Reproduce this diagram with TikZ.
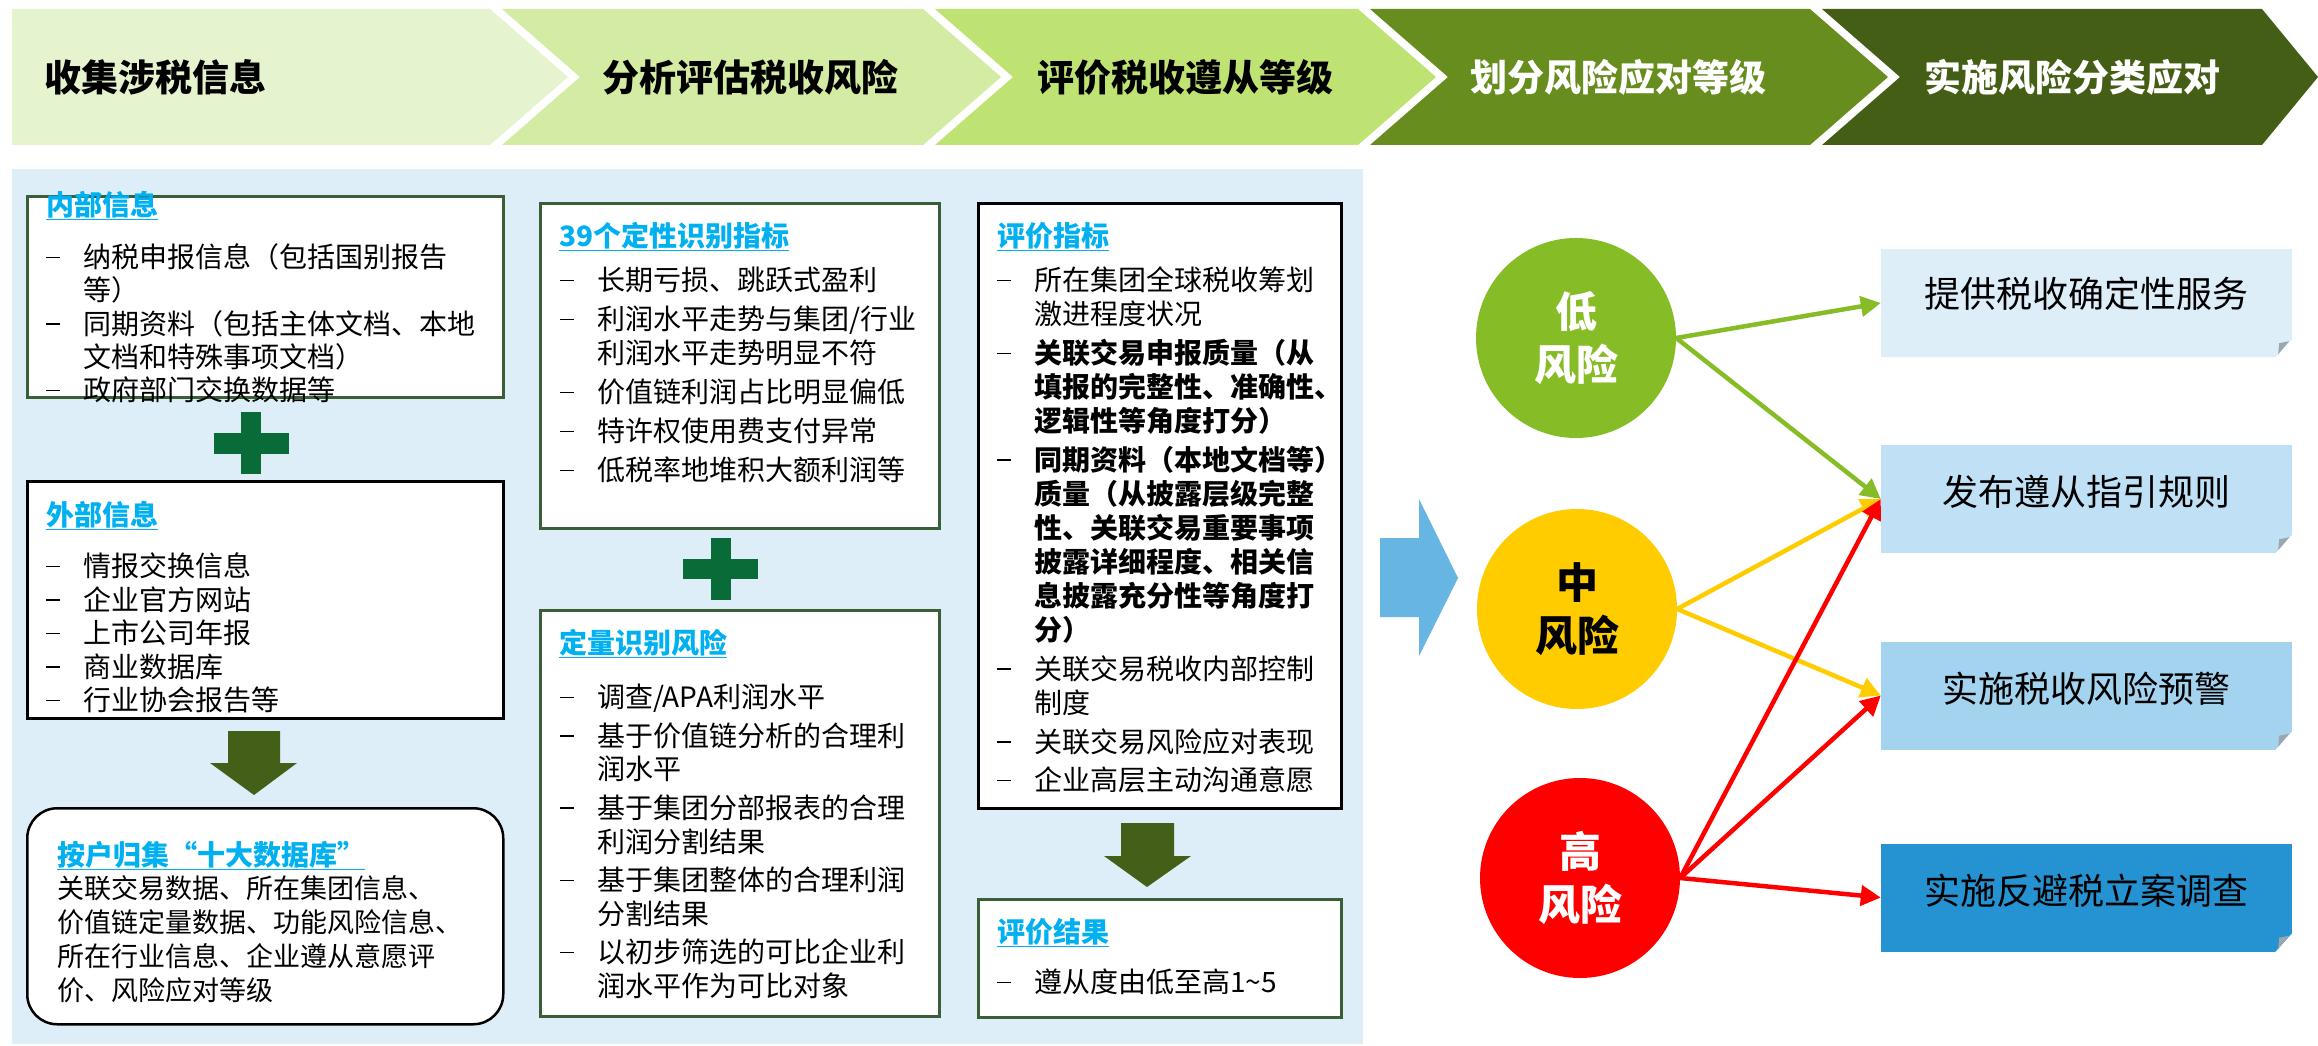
\documentclass[tikz,border=0pt]{standalone}
\usepackage{fontspec}
\setmainfont{Noto Sans CJK SC}
\usetikzlibrary{arrows.meta,calc}
\definecolor{chevA}{HTML}{E5F4CE}
\definecolor{chevB}{HTML}{D3EBA2}
\definecolor{chevC}{HTML}{BEE373}
\definecolor{chevD}{HTML}{678D1E}
\definecolor{chevE}{HTML}{445F15}
\definecolor{panelblue}{HTML}{DDEEF8}
\definecolor{titleblue}{HTML}{00B0F0}
\definecolor{boxgreen}{HTML}{3A5F37}
\definecolor{plusgreen}{HTML}{096B37}
\definecolor{olive}{HTML}{445F18}
\definecolor{lowgreen}{HTML}{86BC25}
\definecolor{midyellow}{HTML}{FFCC00}
\definecolor{highred}{HTML}{FF0000}
\definecolor{bigarrow}{HTML}{66B5E3}
\definecolor{rA}{HTML}{DEEEF9}
\definecolor{rB}{HTML}{BFE0F5}
\definecolor{rC}{HTML}{A3D3EF}
\definecolor{rD}{HTML}{2592D2}
\definecolor{foldgray}{HTML}{9AA6B0}
\newcommand\myitem{\strut\makebox[37pt][l]{\rule[9.5pt]{14pt}{1.5pt}}}
\newcommand\mycont{\strut\hspace*{37pt}}
\newcommand\tightlines{\lineskiplimit=-100pt\relax}
\begin{document}
\begin{tikzpicture}[x=1pt,y=-1pt,
  chevtext/.style={font=\fontsize{37}{44}\selectfont\bfseries, inner sep=0},
  infobox/.style={draw=#1, line width=2.5pt, fill=white, anchor=north west, inner sep=0},
  ttl/.style={font=\fontsize{28}{34}\selectfont\bfseries, text=titleblue, anchor=base west, inner sep=0},
  bodytext/.style={font=\fontsize{28}{#1}\selectfont\tightlines, align=left, anchor=north west, inner sep=0},
  risk/.style={circle, fill=#1, minimum size=200pt, inner sep=0, align=center, font=\fontsize{42}{53}\selectfont\bfseries},
  rbox/.style={fill=#1, minimum width=411pt, minimum height=108pt, inner sep=0},
  rtext/.style={font=\fontsize{36}{40}\selectfont, inner sep=0},
  conn/.style={line width=4.5pt, draw=#1, -{Triangle[length=20pt,width=20pt]}},
]
\useasboundingbox (0,0) rectangle (2318,1046);
\fill[white] (0,0) rectangle (2318,1046);

% header chevrons
\fill[chevA] (12,9) -- (490,9) -- (568,77) -- (490,145) -- (12,145) -- cycle;
\fill[chevB] (502,9) -- (923,9) -- (1001,77) -- (923,145) -- (502,145) -- (580,77) -- cycle;
\fill[chevC] (935,9) -- (1358,9) -- (1436,77) -- (1358,145) -- (935,145) -- (1013,77) -- cycle;
\fill[chevD] (1370,9) -- (1810,9) -- (1888,77) -- (1810,145) -- (1370,145) -- (1448,77) -- cycle;
\fill[chevE] (1822,9) -- (2262,9) -- (2318,77) -- (2262,145) -- (1822,145) -- (1900,77) -- cycle;
\node[chevtext, anchor=west] (h1) at (44,77) {收集涉税信息};
\node[chevtext] (h2) at (750,77) {分析评估税收风险};
\node[chevtext] (h3) at (1185,77) {评价税收遵从等级};
\node[chevtext, text=white] (h4) at (1618,77) {划分风险应对等级};
\node[chevtext, text=white] (h5) at (2072,77) {实施风险分类应对};

% panel
\fill[panelblue] (12,169) rectangle (1363,1044);

% left column
\node[infobox=boxgreen, minimum width=476pt, minimum height=201pt] (b1) at (26,195) {};
\node[ttl] (t1) at (46,215) {\underline{内部信息}};
\node[bodytext=33.3] (l1) at (46,243.5) {\myitem 纳税申报信息（包括国别报告\\\mycont 等）\\\myitem 同期资料（包括主体文档、本地\\\mycont 文档和特殊事项文档）\\\myitem 政府部门交换数据等};

\fill[plusgreen] (214,433) rectangle (289,454);
\fill[plusgreen] (241,412) rectangle (261,474);

\node[infobox=black, minimum width=476pt, minimum height=237pt] (b2) at (26,480) {};
\node[ttl] (t2) at (46,525) {\underline{外部信息}};
\node[bodytext=33.6] (l2) at (46,552.5) {\myitem 情报交换信息\\\myitem 企业官方网站\\\myitem 上市公司年报\\\myitem 商业数据库\\\myitem 行业协会报告等};

\fill[olive] (228,731) -- (280,731) -- (280,763) -- (297,763) -- (254,795) -- (210,763) -- (228,763) -- cycle;

\node[infobox=black, rounded corners=30pt, minimum width=476pt, minimum height=216pt] (b3) at (26,807) {};
\node[ttl] (t3) at (57,865) {\underline{按户归集“十大数据库”}};
\node[bodytext=34, font=\fontsize{27}{34}\selectfont\tightlines] (l3) at (57,874.5) {\strut 关联交易数据、所在集团信息、\\\strut 价值链定量数据、功能风险信息、\\\strut 所在行业信息、企业遵从意愿评\\\strut 价、风险应对等级};

% middle column
\node[infobox=boxgreen, minimum width=399pt, minimum height=325pt] (b4) at (539,202) {};
\node[ttl] (t4) at (559,246) {\underline{39个定性识别指标}};
\node[bodytext=34] (l4) at (560,266.8) {\myitem 长期亏损、跳跃式盈利\\[5pt]\myitem 利润水平走势与集团/行业\\\mycont 利润水平走势明显不符\\[5pt]\myitem 价值链利润占比明显偏低\\[5pt]\myitem 特许权使用费支付异常\\[5pt]\myitem 低税率地堆积大额利润等};

\fill[plusgreen] (683,559) rectangle (758,579);
\fill[plusgreen] (711,538) rectangle (731,600);

\node[infobox=boxgreen, minimum width=399pt, minimum height=406pt] (b5) at (539,609) {};
\node[ttl] (t5) at (559,653) {\underline{定量识别风险}};
\node[bodytext=33.6] (l5) at (560,683.8) {\myitem 调查/APA利润水平\\[5pt]\myitem 基于价值链分析的合理利\\\mycont 润水平\\[5pt]\myitem 基于集团分部报表的合理\\\mycont 利润分割结果\\[5pt]\myitem 基于集团整体的合理利润\\\mycont 分割结果\\[5pt]\myitem 以初步筛选的可比企业利\\\mycont 润水平作为可比对象};

% right column of panel
\node[infobox=black, minimum width=363pt, minimum height=605pt] (b6) at (977,202) {};
\node[ttl] (t6) at (997,246) {\underline{评价指标}};
\node[bodytext=34.1] (l6) at (997,266.8) {\myitem 所在集团全球税收筹划\\\mycont 激进程度状况\\[4.5pt]\myitem\textbf{关联交易申报质量（从}\\\mycont\textbf{填报的完整性、准确性、}\\\mycont\textbf{逻辑性等角度打分）}\\[4.5pt]\myitem\textbf{同期资料（本地文档等）}\\\mycont\textbf{质量（从披露层级完整}\\\mycont\textbf{性、关联交易重要事项}\\\mycont\textbf{披露详细程度、相关信}\\\mycont\textbf{息披露充分性等角度打}\\\mycont\textbf{分）}\\[4.5pt]\myitem 关联交易税收内部控制\\\mycont 制度\\[4.5pt]\myitem 关联交易风险应对表现\\[4.5pt]\myitem 企业高层主动沟通意愿};

\fill[olive] (1121,823) -- (1174,823) -- (1174,856) -- (1191,856) -- (1147,887) -- (1104,856) -- (1121,856) -- cycle;

\node[infobox=boxgreen, minimum width=363pt, minimum height=118pt] (b7) at (977,898) {};
\node[ttl] (t7) at (997,942) {\underline{评价结果}};
\node[bodytext=34] (l7) at (997,968.8) {\myitem 遵从度由低至高1\textasciitilde 5};

% big arrow
\fill[bigarrow] (1380,538) -- (1419,538) -- (1419,499) -- (1458,578) -- (1419,656) -- (1419,617) -- (1380,617) -- cycle;

% risk circles
\node[risk=lowgreen, text=white] (low) at (1576,338) {低\\风险};
\node[risk=midyellow, text=black] (mid) at (1577,609) {中\\风险};
\node[risk=highred, text=white] (high) at (1580,878) {高\\风险};

% response boxes
\node[rbox=rA] (r1) at (2086.5,303) {};
\node[rbox=rB] (r2) at (2086.5,499) {};
\node[rbox=rC] (r3) at (2086.5,695.5) {};
\node[rbox=rD] (r4) at (2086.5,897.5) {};
\foreach \r in {r1,r2,r3,r4} {
  \fill[white] ($(\r.south east)+(-17,0.5)$) -- ($(\r.south east)+(0.5,0.5)$) -- ($(\r.south east)+(0.5,-19)$) -- cycle;
  \fill[foldgray] ($(\r.south east)+(-14,-3)$) -- ($(\r.south east)+(-3,-16)$) -- ($(\r.south east)+(-13,-14)$) -- cycle;
}
\node[rtext] (rt1) at ($(r1.center)+(0,-9)$) {提供税收确定性服务};
\node[rtext] (rt2) at ($(r2.center)+(0,-7)$) {发布遵从指引规则};
\node[rtext] (rt3) at ($(r3.center)+(0,-7)$) {实施税收风险预警};
\node[rtext] (rt4) at ($(r4.center)+(0,-7)$) {实施反避税立案调查};

% connectors
\draw[conn=lowgreen] (low.east) -- (r1.west);
\draw[conn=lowgreen] (low.east) -- (r2.west);
\draw[conn=midyellow] (mid.east) -- (r2.west);
\draw[conn=midyellow] (mid.east) -- (r3.west);
\draw[conn=highred] (high.east) -- (r2.west);
\draw[conn=highred] (high.east) -- (r3.west);
\draw[conn=highred] (high.east) -- (r4.west);
\end{tikzpicture}
\end{document}
